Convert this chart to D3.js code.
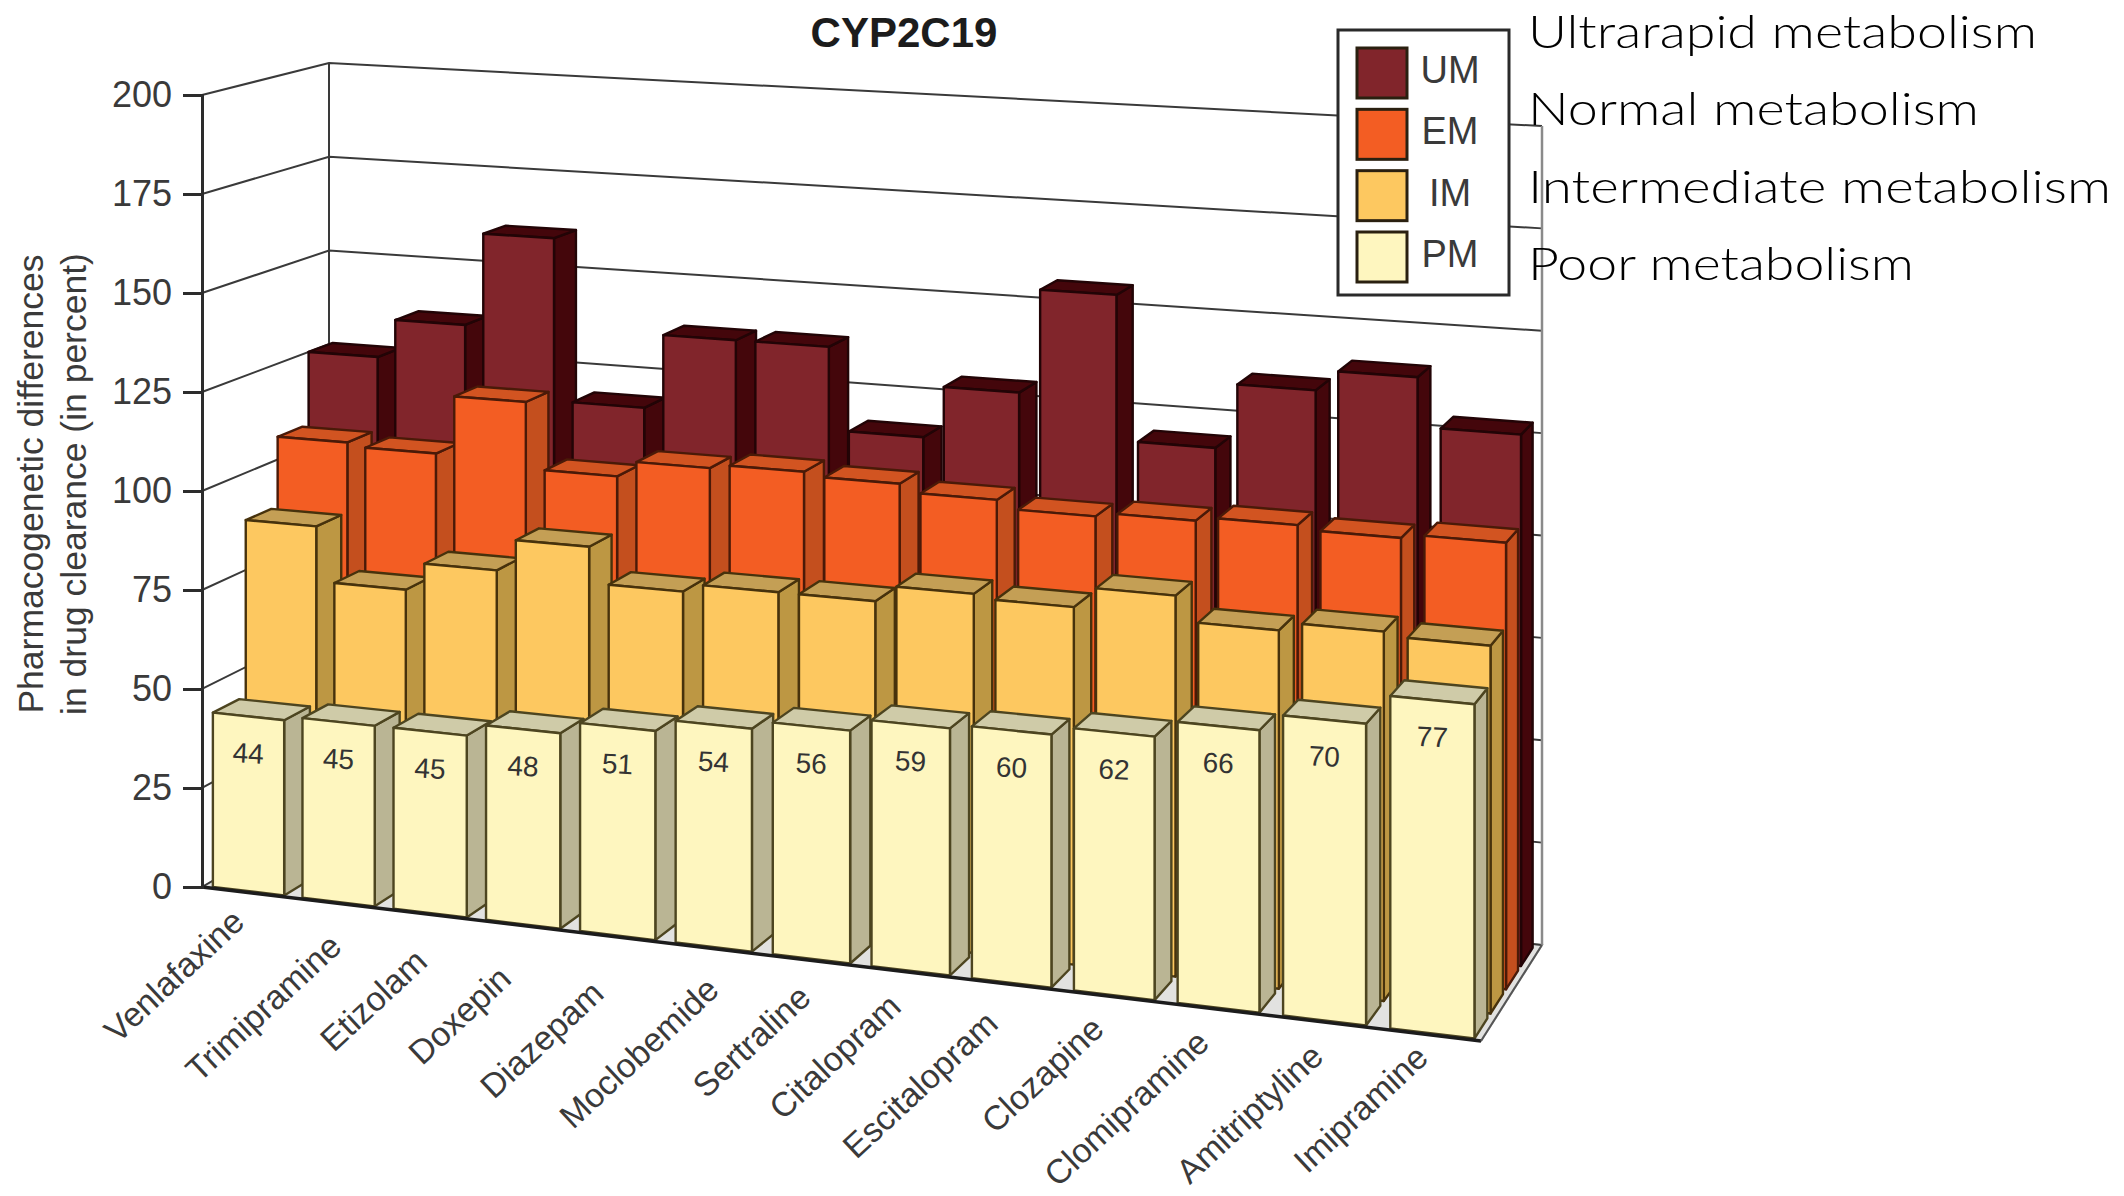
<!DOCTYPE html>
<html>
<head>
<meta charset="utf-8">
<script src="https://cdn.jsdelivr.net/npm/d3@7/dist/d3.min.js"></script>
<style>
  html, body { margin: 0; padding: 0; background: #fff; }
  svg { display: block; }
  text { font-family: "Liberation Sans", Arial, sans-serif; }
</style>
</head>
<body>
<svg id="chart" width="2124" height="1196"></svg>
<script>
// Drug clearance by CYP2C19 phenotype
const categories = ["Venlafaxine", "Trimipramine", "Etizolam", "Doxepin", "Diazepam", "Moclobemide",
  "Sertraline", "Citalopram", "Escitalopram", "Clozapine", "Clomipramine", "Amitriptyline", "Imipramine"];
const phenotypes = ["PM", "IM", "EM", "UM"];
const pmValues = [44, 45, 45, 48, 51, 54, 56, 59, 60, 62, 66, 70, 77];
const imValues = [89, 75, 82, 90, 81, 83, 83, 87, 86, 91, 85, 87, 86];
const emValues = [107, 106, 121, 104, 108, 109, 108, 106, 104, 105, 106, 105, 106];
const umValues = [126, 136, 160, 118, 137, 137, 116, 129, 155, 119, 135, 140, 128];
const yTicks = [0, 25, 50, 75, 100, 125, 150, 175, 200];
const legendRows = ["UM", "EM", "IM", "PM"];
const legendNotes = ["Ultrarapid metabolism", "Normal metabolism", "Intermediate metabolism", "Poor metabolism"];
const seriesValues = { PM: pmValues, IM: imValues, EM: emValues, UM: umValues };

// Layout: fitted text widths and per-label nudges for the slanted drug names
const noteWidths = [509, 451, 583, 386];
const nameNudge = [[2, 6], [9, 20], [3, 24], [-6, 30], [-8, 33], [11, 18], [5, 14], [-4, 11], [-8, 16], [-5, 9], [-4, 10], [4, 11], [1, -1]];
const palette = {
  UM: { front: "#81252b", side: "#44060b", top: "#44060b", edge: "#220406" },
  EM: { front: "#f35d23", side: "#c44f1e", top: "#d25421", edge: "#4a1a08" },
  IM: { front: "#fdc860", side: "#bd9743", top: "#c49f55", edge: "#47320c" },
  PM: { front: "#fef6bf", side: "#bab594", top: "#cfcba8", edge: "#4d4520" }
};

const svg = d3.select("#chart");

// Floor plane: corners of the unit square (u along drugs, w into the page) on screen.
const FL = [202, 887], FR = [1481, 1041], BR = [1542, 945], BL = [329, 813];
const dx1 = FR[0] - BR[0], dx2 = BL[0] - BR[0], sx = FL[0] - FR[0] + BR[0] - BL[0];
const dy1 = FR[1] - BR[1], dy2 = BL[1] - BR[1], sy = FL[1] - FR[1] + BR[1] - BL[1];
const den = dx1 * dy2 - dx2 * dy1;
const g = (sx * dy2 - dx2 * sy) / den, h = (dx1 * sy - sx * dy1) / den;
const a = FR[0] - FL[0] + g * FR[0], b = BL[0] - FL[0] + h * BL[0];
const e = FR[1] - FL[1] + g * FR[1], f = BL[1] - FL[1] + h * BL[1];

const yScale = d3.scaleLinear().domain([0, 200]).range([887, 95]);
const heightPerUnit = (u, w) => 1 / (0.2525 - 0.0225 * u + 0.0142 * w);

function project(u, w, v) {
  const d = 1 + g * u + h * w;
  const x = (a * u + b * w + FL[0]) / d;
  const y = (e * u + f * w + FL[1]) / d;
  return [x, y - v * heightPerUnit(u, w)];
}

const uBand = d3.scaleBand().domain(categories).range([0.012, 0.9976]).paddingInner(0.25).paddingOuter(0);
const wBand = d3.scaleBand().domain(phenotypes).range([0.015, 0.96]).paddingInner(0.2).paddingOuter(0);

// The drawing's perspective along the drug axis is flatter than the floor's,
// so left edges are eased and bar widths taper from left to right.
const easeU = u => u - 0.0045 + 0.05 * u * (1 - u);
const barWidth = d3.scaleLinear().domain([0, 1]).range([0.0645, 0.0565]);
const leftEdge = cat => easeU(uBand(cat));
const rightEdge = cat => leftEdge(cat) + barWidth(leftEdge(cat));
const centre = cat => (leftEdge(cat) + rightEdge(cat)) / 2;

const poly = pts => "M" + pts.map(p => p.join(",")).join("L") + "Z";
const ink = "#3a3a3a";

// Floor, walls and their gridlines
const walls = svg.append("g");
walls.append("path")
  .attr("d", poly([project(0, 0, 0), project(1, 0, 0), project(1, 1, 0), project(0, 1, 0)]))
  .attr("fill", "#e2e2e0").attr("stroke", "#b5b5b5").attr("stroke-width", 2);
yTicks.forEach(t => {
  walls.append("path")
    .attr("d", d3.line()([project(0, 0, t), project(0, 1, t), project(1, 1, t)]))
    .attr("fill", "none").attr("stroke", ink).attr("stroke-width", 2);
});
walls.append("path").attr("d", d3.line()([project(0, 1, 0), project(0, 1, 200)]))
  .attr("stroke", ink).attr("stroke-width", 2);
walls.append("path").attr("d", d3.line()([project(1, 1, 0), project(1, 1, 200)]))
  .attr("stroke", "#8a8a8a").attr("stroke-width", 2.5);

// Bars, painted from the back row forward and left to right
const barsLayer = svg.append("g");
phenotypes.slice().reverse().forEach(ph => {
  const col = palette[ph];
  const w0 = wBand(ph), w1 = w0 + wBand.bandwidth();
  const row = barsLayer.append("g").attr("class", "row-" + ph);
  categories.forEach((cat, i) => {
    const v = seriesValues[ph][i];
    const u0 = leftEdge(cat), u1 = rightEdge(cat);
    const face = (pts, fill) => row.append("path").attr("d", poly(pts)).attr("fill", fill)
      .attr("stroke", col.edge).attr("stroke-width", 2.4).attr("stroke-linejoin", "round");
    face([project(u1, w0, 0), project(u1, w1, 0), project(u1, w1, v), project(u1, w0, v)], col.side);
    face([project(u0, w0, v), project(u1, w0, v), project(u1, w1, v), project(u0, w1, v)], col.top);
    face([project(u0, w0, 0), project(u1, w0, 0), project(u1, w0, v), project(u0, w0, v)], col.front);
  });
});

// Value labels on the front row
pmValues.forEach((v, i) => {
  const p = project(centre(categories[i]), wBand("PM"), v);
  svg.append("text")
    .attr("transform", `translate(${p[0]},${p[1] + 37}) rotate(3)`)
    .attr("text-anchor", "middle").attr("dominant-baseline", "central")
    .attr("font-size", 28).attr("fill", "#333").text(v);
});

// Front floor edge and left value axis
svg.append("path").attr("d", d3.line()([project(0, 0, 0), project(1, 0, 0)]))
  .attr("stroke", "#1c1c1c").attr("stroke-width", 3.5);
svg.append("path").attr("d", d3.line()([project(1, 0, 0), project(1, 1, 0)]))
  .attr("stroke", "#555").attr("stroke-width", 2);

const axis = svg.append("g").attr("transform", `translate(${FL[0]},0)`)
  .call(d3.axisLeft(yScale).tickValues(yTicks).tickSize(19).tickPadding(11));
axis.select(".domain").attr("stroke", "#2c2c2c").attr("stroke-width", 3);
axis.selectAll(".tick line").attr("stroke", "#2c2c2c").attr("stroke-width", 3);
axis.selectAll(".tick text").attr("font-size", 36).attr("fill", "#3a3a3a")
  .attr("font-family", "Liberation Sans");

// Drug names along the front edge
categories.forEach((cat, i) => {
  const p = project(centre(cat), 0, 0);
  svg.append("text")
    .attr("transform", `translate(${p[0] - 2 + nameNudge[i][0]},${p[1] + 26 + nameNudge[i][1]}) rotate(-43)`)
    .attr("text-anchor", "end").attr("font-size", 34).attr("fill", "#3a3a3a").text(cat);
});

// Title and value-axis label
svg.append("text").attr("x", 904).attr("y", 47).attr("text-anchor", "middle")
  .attr("font-size", 42).attr("font-weight", "bold").attr("fill", "#1c1c1c").text("CYP2C19");
[["Pharmacogenetic differences", 43], ["in drug clearance (in percent)", 86]].forEach(([line, x]) => {
  svg.append("text").attr("transform", `translate(${x},484) rotate(-90)`)
    .attr("text-anchor", "middle").attr("font-size", 35.5).attr("fill", "#3a3a3a").text(line);
});

// Legend
const legend = svg.append("g");
legend.append("rect").attr("x", 1338).attr("y", 30).attr("width", 171).attr("height", 265)
  .attr("fill", "#fff").attr("stroke", "#2a2a2a").attr("stroke-width", 3);
const legendY = d3.scalePoint().domain(legendRows).range([73, 257]);
legendRows.forEach(k => {
  legend.append("rect").attr("x", 1357).attr("y", legendY(k) - 25).attr("width", 50).attr("height", 50)
    .attr("fill", palette[k].front).attr("stroke", "#2a2010").attr("stroke-width", 3);
  legend.append("text").attr("x", 1450).attr("y", legendY(k) + 10).attr("text-anchor", "middle")
    .attr("font-size", 38).attr("fill", "#3a3a3a").text(k);
});

// Phenotype names beside the legend
const noteY = d3.scalePoint().domain(legendNotes).range([48, 280]);
legendNotes.forEach((t, i) => {
  svg.append("text").attr("x", 1528).attr("y", noteY(t))
    .attr("font-size", 46).attr("font-weight", 300).attr("fill", "#000")
    .style("font-family", "Lato")
    .attr("textLength", noteWidths[i]).attr("lengthAdjust", "spacingAndGlyphs").text(t);
});
</script>
</body>
</html>
